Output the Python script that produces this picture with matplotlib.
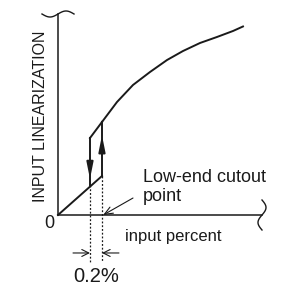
import numpy as np
import matplotlib.pyplot as plt

# data: input percent vs. input linearization (arbitrary units)
curve_x = [0.733, 0.983, 1.25, 1.533, 1.817, 2.083, 2.367, 2.65, 2.917, 3.083]
curve_y = [1.55, 1.883, 2.167, 2.383, 2.583, 2.733, 2.867, 2.967, 3.067, 3.142]
low_x = [0.0, 0.733]
low_y = [0.0, 0.65]
cut_lo, cut_hi = 0.533, 0.733
loop_lo_y = [0.5, 1.283]     # left (down) branch
loop_hi_y = [0.65, 1.55]     # right (up) branch

plt.rcParams['font.family'] = ['Liberation Sans', 'DejaVu Sans']

fig = plt.figure(figsize=(2.83, 2.86), dpi=100)
ax = fig.add_axes([0, 0, 1, 1])
ax.set_xlim(-58 / 60, 225 / 60)
ax.set_ylim(-71 / 60, 215 / 60)
ax.axis('off')

k = '#1a1a1a'
lw = 1.4

# axes with break marks
ax.plot([0, 0], [0, 3.35], color=k, lw=1.1)
ax.plot([0, 3.4], [0, 0], color=k, lw=1.1)
t = np.linspace(-1, 1, 60)
ax.plot(t * 16 / 60, 3.35 + 3 / 60 * np.sin(np.pi * t), color=k, lw=1.0)
ax.plot(3.4 + 4 / 60 * np.sin(np.pi * t), t * 15 / 60, color=k, lw=1.0)

# linearization curve with hysteresis loop
ax.plot(low_x, low_y, color=k, lw=lw)
ax.plot([cut_lo, cut_lo], loop_lo_y, color=k, lw=lw)
ax.plot([cut_hi, cut_hi], loop_hi_y, color=k, lw=lw)
ax.plot([cut_lo, cut_hi], [loop_lo_y[1], loop_hi_y[1]], color=k, lw=lw)
ax.plot(curve_x, curve_y, color=k, lw=lw, solid_joinstyle='round')

head = dict(arrowstyle='-|>,head_length=0.8,head_width=0.16', color=k, lw=lw,
            shrinkA=0, shrinkB=0, mutation_scale=12)
ax.annotate('', xy=(cut_lo, 0.6), xytext=(cut_lo, 0.9), arrowprops=head)
ax.annotate('', xy=(cut_hi, 1.33), xytext=(cut_hi, 1.0), arrowprops=head)

# dotted guides and the 0.2% dimension
ax.plot([cut_lo, cut_lo], [loop_lo_y[0], -0.78], color=k, lw=0.9, ls=(0, (1.5, 1.5)))
ax.plot([cut_hi, cut_hi], [low_y[1], -0.78], color=k, lw=0.9, ls=(0, (1.5, 1.5)))
dim = dict(arrowstyle='->,head_length=0.5,head_width=0.25', color=k, lw=0.8,
           shrinkA=0, shrinkB=0, mutation_scale=10)
ax.annotate('', xy=(cut_lo, -0.633), xytext=(cut_lo - 0.283, -0.633), arrowprops=dim)
ax.annotate('', xy=(cut_hi, -0.633), xytext=(cut_hi + 0.283, -0.633), arrowprops=dim)
ax.text((cut_lo + cut_hi) / 2, -1.017, '0.2%', fontsize=14.5, ha='center', va='center', color=k)

# labels
ax.text(-0.29, 1.65, 'INPUT LINEARIZATION', fontsize=11.5, rotation=90,
        ha='center', va='center', color=k)
ax.text(-0.14, -0.15, '0', fontsize=13, ha='center', va='center', color=k)
ax.text(1.117, -0.35, 'input percent', fontsize=12, ha='left', va='center', color=k)
ax.text(1.417, 0.467, 'Low-end cutout\npoint', fontsize=13, ha='left', va='center',
        color=k, linespacing=1.1)
ax.annotate('', xy=(cut_hi + 0.02, 0.0), xytext=(1.25, 0.283),
            arrowprops=dict(arrowstyle='->,head_length=0.6,head_width=0.25', color=k,
                            lw=0.8, shrinkA=0, shrinkB=0, mutation_scale=10))

fig.savefig('out.png', dpi=100)
